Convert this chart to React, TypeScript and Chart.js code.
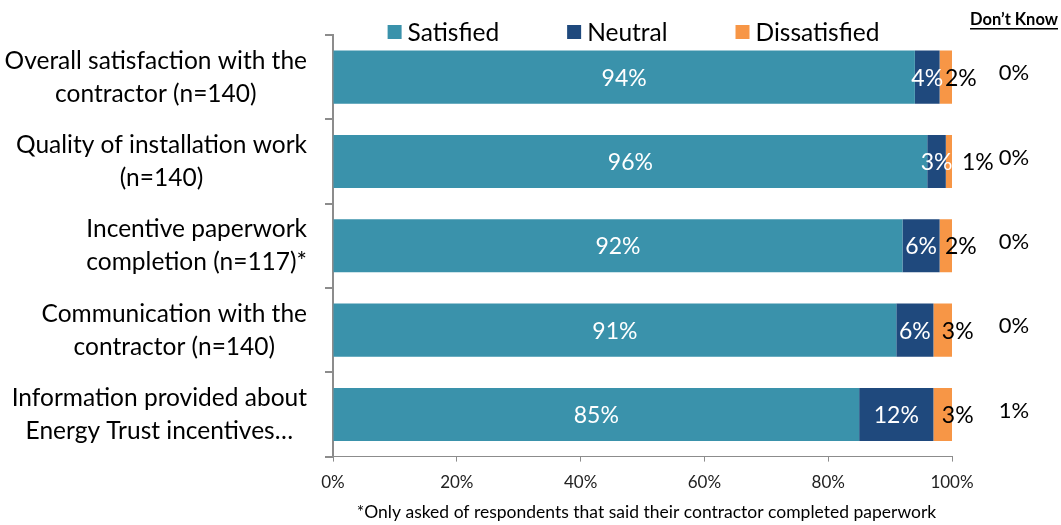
import React, { useEffect, useRef } from 'react';
import { Chart, registerables } from 'chart.js';

Chart.register(...registerables);

const categories: string[][] = [
  ['Overall satisfaction with the', 'contractor (n=140)'],
  ['Quality of installation work', '(n=140)'],
  ['Incentive paperwork', 'completion (n=117)*'],
  ['Communication with the', 'contractor (n=140)'],
  ['Information provided about', 'Energy Trust incentives…'],
];
const seriesNames = ['Satisfied', 'Neutral', 'Dissatisfied'];
const satisfied = [94, 96, 92, 91, 85];
const neutral = [4, 3, 6, 6, 12];
const dissatisfied = [2, 1, 2, 3, 3];
const dontKnow = [0, 0, 0, 0, 1];
const xTicks = [0, 20, 40, 60, 80, 100];
const dontKnowHeader = 'Don’t Know';
const footnote = '*Only asked of respondents that said their contractor completed paperwork';

const FONT = 'Lato';
const COLORS = ['#3A92AB', '#1F497D', '#F79646'];
const AXIS = '#8c8c8c';

const overlay = {
  id: 'overlay',
  afterDatasetsDraw(chart: any) {
    const { ctx } = chart;
    ctx.save();
    ctx.textBaseline = 'middle';
    ctx.font = `23px ${FONT}`;
    chart.data.datasets.forEach((ds: any, di: number) => {
      const meta = chart.getDatasetMeta(di);
      meta.data.forEach((bar: any, i: number) => {
        const { x, base, y } = bar.getProps(['x', 'base', 'y'], true);
        const left = Math.min(x, base);
        const right = Math.max(x, base);
        const w = right - left;
        let tx = (left + right) / 2;
        let align: CanvasTextAlign = 'center';
        let color = '#ffffff';
        if (di === 2) {
          color = '#000000';
          if (w < 10) {
            tx = right + 10;
            align = 'left';
          } else {
            tx += 15;
          }
        }
        ctx.fillStyle = color;
        ctx.textAlign = align;
        ctx.fillText(`${ds.data[i]}%`, tx, y + 1);
      });
    });
    ctx.restore();
  },
  afterDraw(chart: any) {
    const { ctx, chartArea } = chart;
    const yScale = chart.scales.y;
    ctx.save();
    ctx.fillStyle = '#000';
    ctx.textBaseline = 'middle';

    // category labels: block right-aligned, lines centred within block
    ctx.font = `24.5px ${FONT}`;
    ctx.textAlign = 'center';
    const lineH = 33;
    categories.forEach((lines, i) => {
      const cy = yScale.getPixelForValue(i);
      const w = Math.max(...lines.map((l) => ctx.measureText(l).width));
      const cx = chartArea.left - 26 - w / 2;
      lines.forEach((l, j) => {
        ctx.fillText(l, cx, cy + (j - (lines.length - 1) / 2) * lineH);
      });
    });

    // Don't Know column
    ctx.font = `22px ${FONT}`;
    ctx.textAlign = 'center';
    dontKnow.forEach((v, i) => {
      const cy = yScale.getPixelForValue(i);
      ctx.fillText(`${v}%`, chartArea.right + 62, cy - 4);
    });
    ctx.font = `bold 16.5px ${FONT}`;
    ctx.textAlign = 'right';
    const hx = chartArea.right + 106;
    ctx.fillText(dontKnowHeader, hx, 20);
    const hw = ctx.measureText(dontKnowHeader).width;
    ctx.fillRect(hx - hw, 28, hw, 1.5);

    // legend
    ctx.font = `24.5px ${FONT}`;
    ctx.textAlign = 'left';
    const box = 14;
    const gapBoxText = 6;
    const gapItems = 68;
    const widths = seriesNames.map((n) => box + gapBoxText + ctx.measureText(n).width);
    const total = widths.reduce((a, b) => a + b, 0) + gapItems * (seriesNames.length - 1);
    let lx = (chartArea.left + chartArea.right) / 2 - 9 - total / 2;
    const ly = 32;
    seriesNames.forEach((n, i) => {
      ctx.fillStyle = COLORS[i];
      ctx.fillRect(lx, ly - box / 2, box, box);
      ctx.fillStyle = '#000';
      ctx.fillText(n, lx + box + gapBoxText, ly + 1);
      lx += widths[i] + gapItems;
    });

    // footnote
    ctx.font = `17.5px ${FONT}`;
    ctx.textAlign = 'center';
    ctx.fillText(footnote, (chartArea.left + chartArea.right) / 2 + 4, 512);
    ctx.restore();
  },
};

export default function App() {
  const ref = useRef<HTMLCanvasElement | null>(null);
  useEffect(() => {
    if (!ref.current) return;
    const data = [satisfied, neutral, dissatisfied];
    const chart = new Chart(ref.current, {
      type: 'bar',
      data: {
        labels: categories.map((c) => c.join(' ')),
        datasets: seriesNames.map((name, i) => ({
          label: name,
          data: data[i],
          backgroundColor: COLORS[i],
          borderWidth: 0,
          barPercentage: 0.63,
          categoryPercentage: 1,
        })),
      },
      options: {
        indexAxis: 'y',
        responsive: false,
        animation: false,
        layout: { padding: { left: 325, right: 109, top: 35, bottom: 21 } },
        plugins: { legend: { display: false }, tooltip: { enabled: false } },
        scales: {
          x: {
            stacked: true,
            min: 0,
            max: 100,
            afterBuildTicks: (s: any) => {
              s.ticks = xTicks.map((v) => ({ value: v }));
            },
            grid: { drawOnChartArea: false, drawTicks: true, tickLength: 5, color: AXIS, lineWidth: 1 },
            border: { color: AXIS, width: 1 },
            ticks: {
              font: { family: FONT, size: 17 },
              color: '#222',
              padding: 11,
              maxRotation: 0,
              callback: (v: any) => `${v}%`,
            },
          },
          y: {
            stacked: true,
            grid: { offset: true, drawOnChartArea: false, drawTicks: true, tickLength: 8, color: AXIS, lineWidth: 2 },
            border: { color: AXIS, width: 2 },
            ticks: { display: false },
          },
        },
      },
      plugins: [overlay],
    } as any);
    return () => chart.destroy();
  }, []);
  return (
    <div style={{ position: 'fixed', left: 0, top: 0, width: 1061, height: 525, background: '#fff' }}>
      <canvas ref={ref} width={1061} height={525} style={{ display: 'block' }} />
    </div>
  );
}
